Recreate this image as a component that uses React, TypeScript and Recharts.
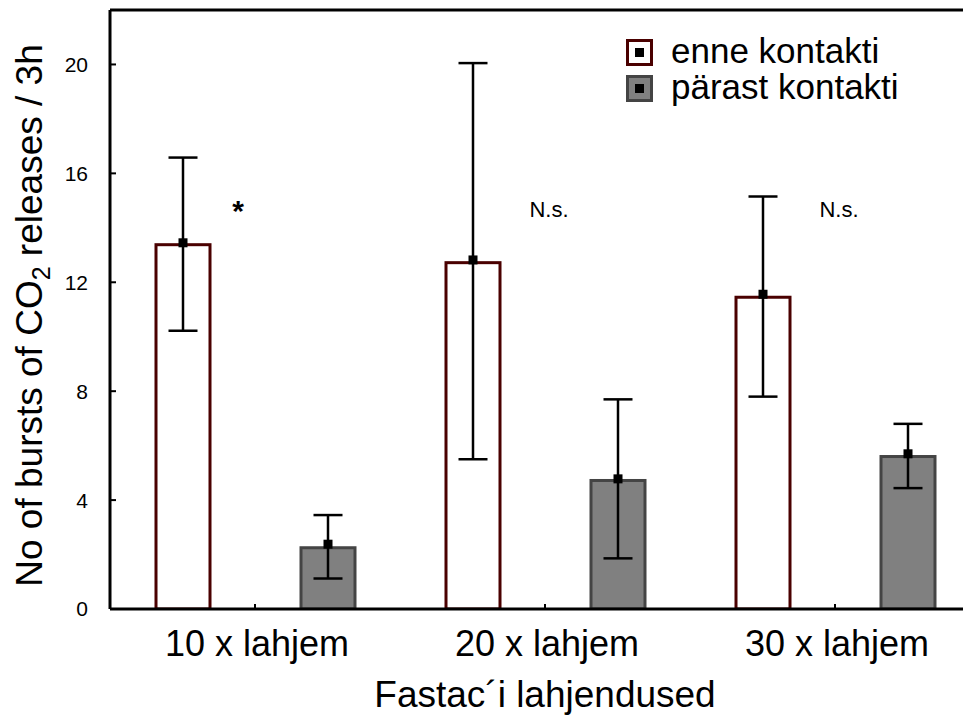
import { ComposedChart, Bar, XAxis, YAxis, ErrorBar, ReferenceLine, ReferenceDot, Legend } from 'recharts';

const categories = ['10 x lahjem', '20 x lahjem', '30 x lahjem'];

// enne kontakti (before contact)
const enneBar = [13.38, 12.72, 11.45];
const enneMean = [13.45, 12.82, 11.56];
const enneLow = [10.22, 5.5, 7.8];
const enneHigh = [16.58, 20.05, 15.15];

// pärast kontakti (after contact)
const parastBar = [2.25, 4.72, 5.6];
const parastMean = [2.38, 4.78, 5.7];
const parastLow = [1.12, 1.86, 4.44];
const parastHigh = [3.45, 7.7, 6.8];

const annotations = ['*', 'N.s.', 'N.s.'];
const annotationLevel = 14.7;

const yTicks = [0, 4, 8, 12, 16, 20];

const data = categories.map((c, i) => ({
  name: c,
  enne: enneBar[i],
  enneMean: enneMean[i],
  enneErr: [enneBar[i] - enneLow[i], enneHigh[i] - enneBar[i]],
  parast: parastBar[i],
  parastMean: parastMean[i],
  parastErr: [parastBar[i] - parastLow[i], parastHigh[i] - parastBar[i]],
}));

const FONT = '"Liberation Sans", Arial, sans-serif';

function barShape(fill: string, stroke: string, meanKey: string, valueKey: string) {
  return (props: any) => {
    const { x, y, width, height, payload } = props;
    const base = y + height;
    const meanY = base - height * (payload[meanKey] / payload[valueKey]);
    const cx = x + width / 2;
    return (
      <g>
        <rect x={x} y={y} width={width} height={height} fill={fill} stroke={stroke} strokeWidth={3} />
        <rect x={cx - 4.5} y={meanY - 4.5} width={9} height={9} fill="#000" />
      </g>
    );
  };
}

function XTick(props: any) {
  const { x, y, payload } = props;
  return (
    <text x={x + 2} y={y} dy={26} textAnchor="middle" fontSize={36} fill="#000" fontFamily={FONT}>
      {payload.value}
    </text>
  );
}

function LegendContent() {
  const rows = [
    { label: 'enne kontakti', fill: '#fff', stroke: '#4a0000' },
    { label: 'pärast kontakti', fill: '#808080', stroke: '#444' },
  ];
  return (
    <svg width={350} height={110}>
      {rows.map((r, i) => (
        <g key={r.label} transform={`translate(0, ${20 + i * 36})`}>
          <rect x={2.5} y={2.5} width={24} height={24} fill={r.fill} stroke={r.stroke} strokeWidth={3} />
          <rect x={10} y={10} width={9} height={9} fill="#000" />
          <text x={46} y={25} fontSize={35} fill="#000" fontFamily={FONT}>
            {r.label}
          </text>
        </g>
      ))}
    </svg>
  );
}

export default function App() {
  return (
    <div style={{ width: 963, height: 712, overflow: 'hidden', fontFamily: FONT, position: 'relative' }}>
      <ComposedChart
        width={975}
        height={712}
        data={data}
        margin={{ top: 2, right: 3, bottom: 0, left: 0 }}
        barSize={54}
        barGap={91}
      >
        <XAxis
          dataKey="name"
          height={111}
          axisLine={{ stroke: '#000', strokeWidth: 3 }}
          tickLine={{ stroke: '#000', strokeWidth: 2 }}
          tickSize={-5}
          tickMargin={26}
          tick={<XTick />}
          interval={0}
          label={{
            content: (p: any) => {
              const vb = p.viewBox;
              return (
                <text x={vb.x + vb.width / 2} y={vb.y + 98} textAnchor="middle" fontSize={37} fill="#000" fontFamily={FONT}>
                  Fastac´i lahjendused
                </text>
              );
            },
          }}
        />
        <YAxis
          width={102}
          domain={[0, 22]}
          ticks={yTicks}
          allowDataOverflow
          axisLine={{ stroke: '#000', strokeWidth: 3 }}
          tickLine={{ stroke: '#000', strokeWidth: 2 }}
          tickSize={-6}
          tickMargin={28}
          tick={{ fontSize: 21, fill: '#000', fontFamily: FONT }}
          label={{
            content: (p: any) => {
              const vb = p.viewBox;
              const cy = vb.y + vb.height / 2 + 6;
              return (
                <text transform={`translate(34, ${cy}) rotate(-90)`} textAnchor="middle" fontSize={37} fill="#000" fontFamily={FONT}>
                  No of bursts of CO
                  <tspan dy={8} fontSize={25}>2</tspan>
                  <tspan dy={-8}> releases / 3h</tspan>
                </text>
              );
            },
          }}
        />
        <ReferenceLine y={22} stroke="#000" strokeWidth={3} />
        <Legend
          layout="horizontal"
          verticalAlign="middle"
          align="center"
          content={<LegendContent />}
          wrapperStyle={{ position: 'absolute', left: 617, top: 10, width: 350, height: 110 }}
        />
        <Bar
          dataKey="enne"
          name="enne kontakti"
          fill="#fff"
          stroke="#4a0000"
          shape={barShape('#fff', '#4a0000', 'enneMean', 'enne')}
          isAnimationActive={false}
        >
          <ErrorBar dataKey="enneErr" width={14.5} stroke="#000" strokeWidth={2.5} direction="y" />
        </Bar>
        <Bar
          dataKey="parast"
          name="pärast kontakti"
          fill="#808080"
          stroke="#444"
          shape={barShape('#808080', '#444', 'parastMean', 'parast')}
          isAnimationActive={false}
        >
          <ErrorBar dataKey="parastErr" width={14.5} stroke="#000" strokeWidth={2.5} direction="y" />
        </Bar>
        {categories.map((c, i) => (
          <ReferenceDot
            key={c}
            x={c}
            y={annotationLevel}
            r={0}
            shape={(p: any) =>
              annotations[i] === '*' ? (
                <text x={p.cx - 17} y={p.cy + 12} textAnchor="middle" fontSize={30} fontWeight="bold" fill="#000" fontFamily={FONT}>
                  {annotations[i]}
                </text>
              ) : (
                <text x={p.cx + 4} y={p.cy + 8} textAnchor="middle" fontSize={22} fill="#000" fontFamily={FONT}>
                  {annotations[i]}
                </text>
              )
            }
          />
        ))}
      </ComposedChart>
    </div>
  );
}
